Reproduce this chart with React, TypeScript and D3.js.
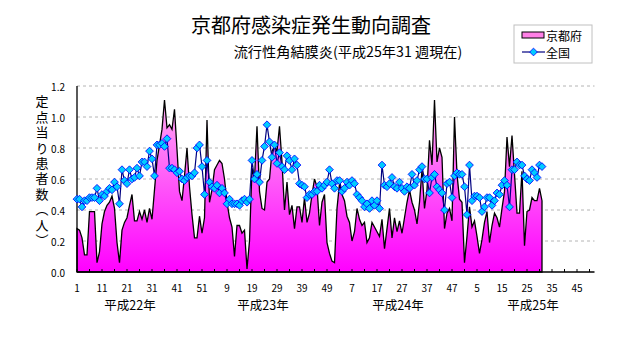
import React from "react";
import * as d3 from "d3";

// 京都府 (Kyoto) weekly values, 平成22年第1週 … 平成25年第31週
const kyoto: number[] = [
  0.28, 0.27, 0.22, 0.11, 0.11, 0.39, 0.39, 0.39, 0.06, 0.13,
  0.31, 0.39, 0.43, 0.45, 0.49, 0.41, 0.19, 0.06, 0.27, 0.32,
  0.35, 0.43, 0.50, 0.33, 0.33, 0.39, 0.34, 0.40, 0.32, 0.41,
  0.34, 0.53, 0.72, 0.82, 0.92, 1.11, 0.93, 0.95, 0.92, 1.05,
  0.79, 0.52, 0.46, 0.62, 0.80, 0.55, 0.37, 0.22, 0.22, 0.36,
  0.25, 0.35, 0.98, 0.45, 0.53, 0.66, 0.69, 0.72, 0.70, 0.60,
  0.45, 0.35, 0.29, 0.10, 0.30, 0.30, 0.25, 0.27, 0.02, 0.20,
  0.67, 0.60, 0.94, 0.52, 0.41, 0.40, 0.58, 0.60, 0.78, 0.81,
  0.78, 0.94, 0.71, 0.40, 0.58, 0.37, 0.43, 0.28, 0.42, 0.42,
  0.32, 0.48, 0.32, 0.38, 0.50, 0.60, 0.55, 0.30, 0.45, 0.50,
  0.19, 0.12, 0.07, 0.06, 0.41, 0.57, 0.50, 0.46, 0.36, 0.32,
  0.20, 0.26, 0.41, 0.34, 0.30, 0.32, 0.19, 0.22, 0.32, 0.29,
  0.26, 0.23, 0.34, 0.15, 0.28, 0.41, 0.22, 0.35, 0.26, 0.33,
  0.25, 0.35, 0.45, 0.53, 0.45, 0.40, 0.31, 0.45, 0.66, 0.41,
  0.53, 0.85, 0.69, 1.11, 0.71, 0.80, 0.74, 0.28, 0.38, 0.41,
  0.33, 1.00, 0.63, 0.47, 0.45, 0.06, 0.23, 0.42, 0.29, 0.33,
  0.23, 0.12, 0.21, 0.32, 0.39, 0.19, 0.30, 0.38, 0.35, 0.29,
  0.41, 0.52, 0.87, 0.68, 0.88, 0.63, 0.38, 0.38, 0.65, 0.17,
  0.39, 0.40, 0.48, 0.46, 0.46, 0.54, 0.46,
];

// 全国 (national) weekly values
const national: number[] = [
  0.47, 0.47, 0.42, 0.46, 0.46, 0.48, 0.48, 0.48, 0.54, 0.46,
  0.50, 0.49, 0.52, 0.54, 0.53, 0.58, 0.55, 0.44, 0.66, 0.59,
  0.57, 0.66, 0.60, 0.61, 0.67, 0.62, 0.71, 0.71, 0.68, 0.78,
  0.73, 0.62, 0.82, 0.82, 0.83, 0.81, 0.86, 0.67, 0.67, 0.66,
  0.64, 0.65, 0.60, 0.59, 0.61, 0.62, 0.62, 0.64, 0.80, 0.82,
  0.68, 0.50, 0.72, 0.58, 0.55, 0.54, 0.56, 0.51, 0.54, 0.51,
  0.44, 0.47, 0.44, 0.44, 0.44, 0.43, 0.46, 0.47, 0.45, 0.47,
  0.72, 0.60, 0.63, 0.58, 0.72, 0.81, 0.95, 0.84, 0.74, 0.82,
  0.70, 0.77, 0.68, 0.66, 0.75, 0.72, 0.66, 0.73, 0.69, 0.57,
  0.56, 0.55, 0.48, 0.50, 0.50, 0.52, 0.52, 0.56, 0.54, 0.56,
  0.58, 0.66, 0.57, 0.54, 0.59, 0.59, 0.52, 0.54, 0.58, 0.56,
  0.59, 0.57, 0.50, 0.48, 0.46, 0.42, 0.44, 0.41, 0.46, 0.43,
  0.46, 0.41, 0.69, 0.56, 0.55, 0.57, 0.61, 0.55, 0.54, 0.58,
  0.54, 0.52, 0.55, 0.54, 0.63, 0.56, 0.59, 0.66, 0.68, 0.60,
  0.60, 0.51, 0.61, 0.63, 0.55, 0.53, 0.51, 0.40, 0.57, 0.58,
  0.48, 0.62, 0.64, 0.63, 0.63, 0.55, 0.37, 0.69, 0.46, 0.49,
  0.49, 0.48, 0.39, 0.42, 0.48, 0.48, 0.43, 0.46, 0.51, 0.50,
  0.56, 0.59, 0.56, 0.42, 0.66, 0.66, 0.71, 0.69, 0.69, 0.62,
  0.60, 0.59, 0.66, 0.64, 0.61, 0.69, 0.68,
];

const WEEKS_PER_YEAR = [52, 52, 52, 52];
const xTickLabels = ["1", "11", "21", "31", "41", "51", "9", "19", "29", "39", "49", "7", "17", "27", "37", "47", "5", "15", "25", "35", "45"];
const yTickValues = [0, 0.2, 0.4, 0.6, 0.8, 1.0, 1.2];
const yearLabels = ["平成22年", "平成23年", "平成24年", "平成25年"];
const yearLabelAt = [21.2, 74.4, 128.4, 182.4];

const title = "京都府感染症発生動向調査";
const subtitle = "流行性角結膜炎(平成25年31 週現在)";
const yTitle = "定点当り患者数（人）";
const legendNames = ["京都府", "全国"];

const W = 632;
const H = 348;
const FONT = "'Noto Sans CJK JP', 'Noto Sans', sans-serif";

export default function App() {
  const total = d3.sum(WEEKS_PER_YEAR);
  const x = d3.scaleLinear().domain([0, total - 1]).range([77, 594.5]);
  const y = d3.scaleLinear().domain([0, 1.2]).range([272, 86]);

  const area = d3
    .area<number>()
    .x((_, i) => x(i))
    .y0(y(0))
    .y1((d) => y(d));
  const line = d3
    .line<number>()
    .x((_, i) => x(i))
    .y((d) => y(d));
  const diamond = d3.symbol().type(d3.symbolSquare).size(30)() as string;

  const minorTicks = d3.range(0, total, 5);

  return (
    <svg
      width={W}
      height={H}
      style={{ position: "absolute", left: 0, top: 0, background: "#fff" }}
      fontFamily={FONT}
    >
      <defs>
        <linearGradient id="pinkGrad" gradientUnits="userSpaceOnUse" x1="0" x2="0" y1={y(1.2)} y2={y(0)}>
          <stop offset="0%" stopColor="#ffb8f2" />
          <stop offset="100%" stopColor="#ff00ff" />
        </linearGradient>
      </defs>

      {/* titles */}
      <text x={311} y={24} fontSize={20} textAnchor="middle" dominantBaseline="central" fill="#000">
        {title}
      </text>
      <text x={348} y={51} fontSize={14.2} textAnchor="middle" dominantBaseline="central" fill="#000">
        {subtitle}
      </text>

      {/* gridlines */}
      {yTickValues.filter((v) => v > 0).map((v) => (
        <line key={v} x1={x(0)} x2={x(total - 1)} y1={y(v)} y2={y(v)} stroke="#b4b4b4" strokeDasharray="3,3" />
      ))}

      {/* Kyoto area */}
      <path d={area(kyoto) as string} fill="url(#pinkGrad)" stroke="#000" strokeWidth={1.3} strokeLinejoin="miter" />

      {/* axes */}
      <line x1={x(0)} x2={x(0)} y1={y(1.2)} y2={y(0)} stroke="#000" strokeWidth={1.3} />
      <line x1={x(0)} x2={x(total - 1)} y1={y(0)} y2={y(0)} stroke="#000" strokeWidth={1.3} />
      {minorTicks.map((i) => (
        <line key={i} x1={x(i)} x2={x(i)} y1={y(0)} y2={y(0) - 3} stroke="#000" />
      ))}

      {/* y tick labels */}
      {yTickValues.map((v) => (
        <text key={v} x={65} y={y(v)} fontSize={10} textAnchor="end" dominantBaseline="central">
          {d3.format(".1f")(v)}
        </text>
      ))}

      {/* x tick labels */}
      {xTickLabels.map((t, k) => (
        <text key={k} x={x(k * 10)} y={287} fontSize={10} textAnchor="middle" dominantBaseline="central">
          {t}
        </text>
      ))}
      {yearLabels.map((t, k) => (
        <text key={t} x={x(yearLabelAt[k])} y={304} fontSize={12.5} textAnchor="middle" dominantBaseline="central">
          {t}
        </text>
      ))}

      {/* y axis title */}
      <text
        x={42}
        y={95}
        fontSize={13}
        style={{ writingMode: "vertical-rl" as any }}
        letterSpacing={2.4}
      >
        {yTitle}
      </text>

      {/* national line */}
      <path d={line(national) as string} fill="none" stroke="#000080" strokeWidth={1.2} />
      {national.map((v, i) => (
        <path
          key={i}
          d={diamond}
          transform={`translate(${x(i)},${y(v)}) rotate(45)`}
          fill="#00ccff"
          stroke="#0000ff"
          strokeWidth={0.8}
        />
      ))}

      {/* legend */}
      <rect x={514} y={25} width={78} height={38} fill="#fff" stroke="#c0c0c0" />
      <rect x={522} y={32} width={22} height={6} fill="#ff80e6" stroke="#000" />
      <text x={546} y={35} fontSize={12} dominantBaseline="central">
        {legendNames[0]}
      </text>
      <line x1={522} x2={545} y1={52} y2={52} stroke="#000080" strokeWidth={1.2} />
      <path d={diamond} transform="translate(533.5,52) rotate(45)" fill="#00ccff" stroke="#0000ff" strokeWidth={0.8} />
      <text x={546} y={52} fontSize={12} dominantBaseline="central">
        {legendNames[1]}
      </text>
    </svg>
  );
}
